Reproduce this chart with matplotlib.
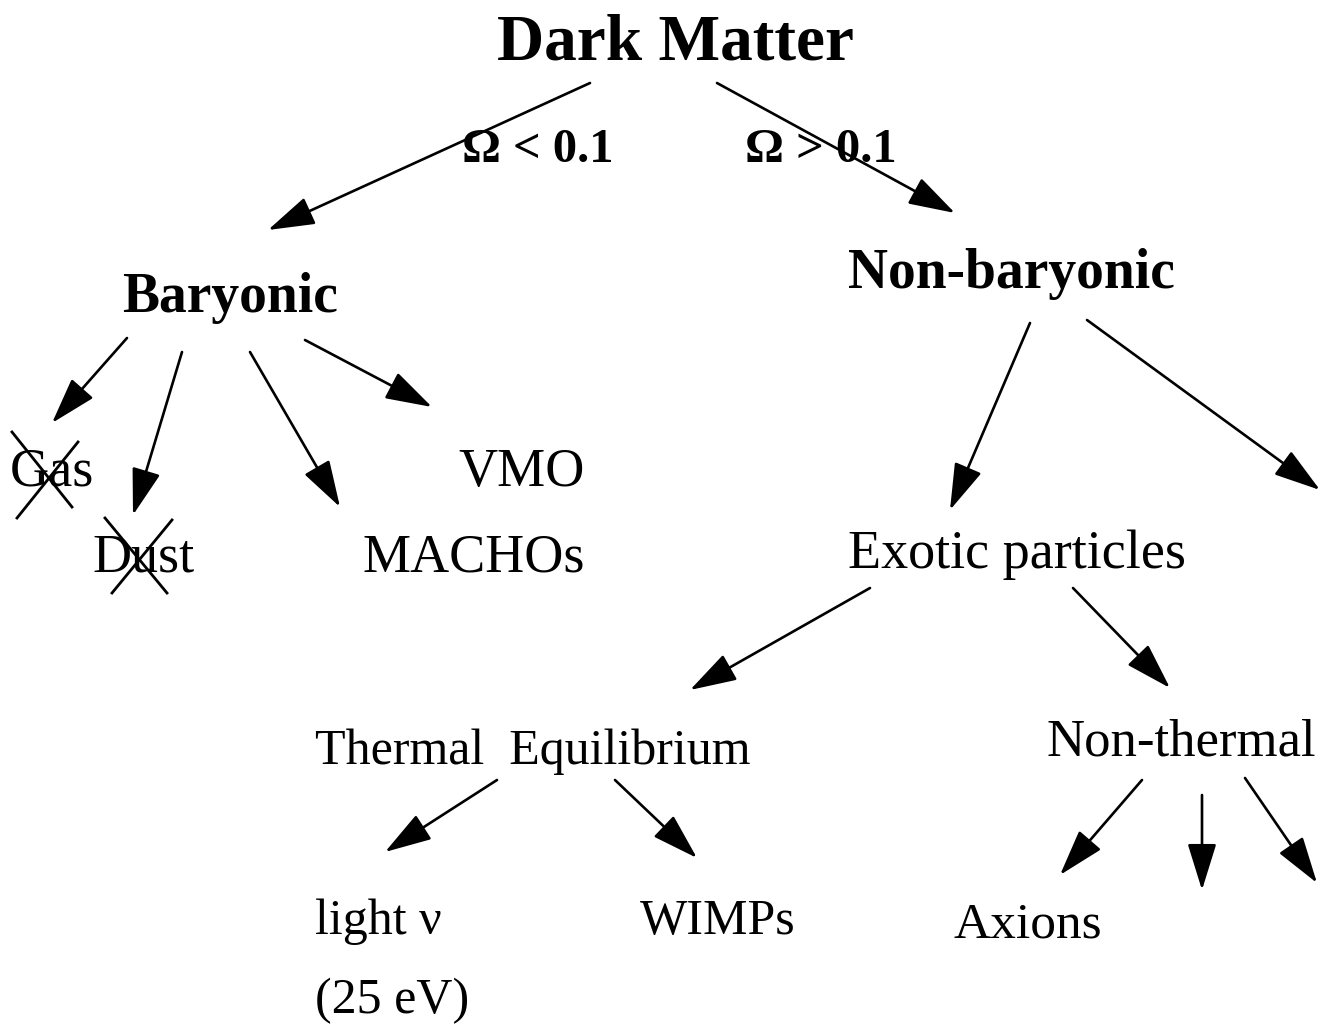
import matplotlib.pyplot as plt

# node labels: text, left x, baseline y (pixels), font size, bold?
labels = ["Dark Matter", "\u03a9 < 0.1", "\u03a9 > 0.1", "Baryonic", "Non-baryonic",
          "Gas", "VMO", "Dust", "MACHOs", "Exotic particles",
          "Thermal  Equilibrium", "Non-thermal", "light \u03bd", "WIMPs",
          "(25 eV)", "Axions"]
label_x = [497, 462, 745, 122, 848, 10, 458, 92, 363, 848, 315, 1047, 315, 640, 315, 953]
label_y = [60, 162, 162, 312, 288, 486, 486, 572, 572, 568, 764, 755, 934, 934, 1013, 937]
label_size = [47, 35, 35, 40, 40, 39, 39, 39, 39, 39, 36, 38, 36, 36, 36, 37]
label_bold = [True, True, True, True, True] + [False] * 11

# arrows: start and tip (pixels)
arrow_start = [(590, 83), (717, 83),
               (127, 338), (182, 352), (250, 352), (305, 340),
               (1030, 323), (1087, 320),
               (870, 588), (1073, 588),
               (497, 780), (615, 780),
               (1142, 780), (1202, 795), (1245, 778)]
arrow_end = [(268, 230), (955, 213),
             (52, 423), (133, 515), (340, 507), (432, 407),
             (950, 510), (1320, 490),
             (690, 690), (1170, 688),
             (385, 852), (697, 858),
             (1060, 875), (1202, 890), (1317, 883)]

# crossed-out words (Gas, Dust)
cross_lines = [((12, 432), (72, 507)), ((17, 518), (78, 442)),
               ((105, 518), (167, 593)), ((112, 593), (172, 520))]

fig = plt.figure(figsize=(13.31, 10.26), dpi=100)
ax = fig.add_axes([0, 0, 1, 1])
ax.set_xlim(0, 1331)
ax.set_ylim(1026, 0)
ax.axis("off")

for t, x, y, s, b in zip(labels, label_x, label_y, label_size, label_bold):
    ax.text(x, y, t, fontsize=s, family="Liberation Serif",
            fontweight="bold" if b else "normal", ha="left", va="baseline")

for a, b in zip(arrow_start, arrow_end):
    ax.annotate("", xy=b, xytext=a,
                arrowprops=dict(arrowstyle="-|>,head_length=1.45,head_width=0.45",
                                color="black", lw=1.9, mutation_scale=20,
                                shrinkA=0, shrinkB=0))

for p, q in cross_lines:
    ax.plot([p[0], q[0]], [p[1], q[1]], color="black", lw=2.0)

fig.savefig("out.png", dpi=100, facecolor="white")
